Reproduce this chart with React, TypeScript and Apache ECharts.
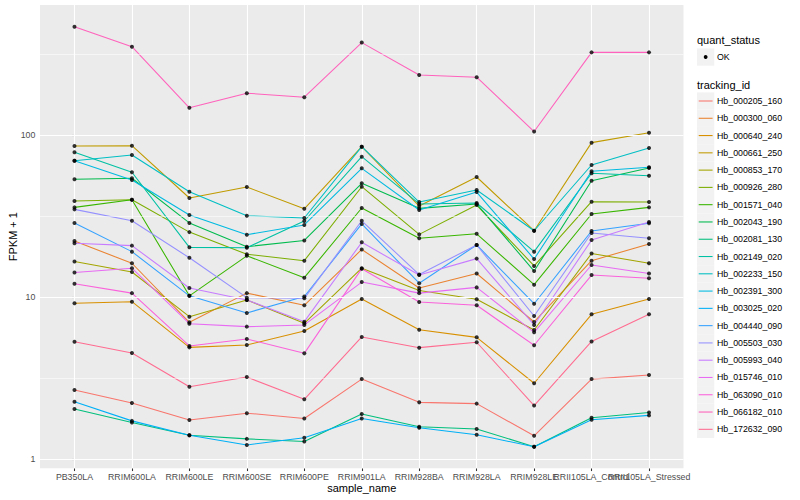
import React, { useEffect, useRef } from "react";
import * as echarts from "echarts";

const samples = [
  "PB350LA", "RRIM600LA", "RRIM600LE", "RRIM600SE", "RRIM600PE", "RRIM901LA",
  "RRIM928BA", "RRIM928LA", "RRIM928LE", "RRII105LA_Control", "RRII105LA_Stressed",
];

const trackingIds = [
  "Hb_000205_160", "Hb_000300_060", "Hb_000640_240", "Hb_000661_250", "Hb_000853_170",
  "Hb_000926_280", "Hb_001571_040", "Hb_002043_190", "Hb_002081_130", "Hb_002149_020",
  "Hb_002233_150", "Hb_002391_300", "Hb_003025_020", "Hb_004440_090", "Hb_005503_030",
  "Hb_005993_040", "Hb_015746_010", "Hb_063090_010", "Hb_066182_010", "Hb_172632_090",
];

// FPKM + 1 per sample (order of `samples`)
const hb_000205_160 = [2.68, 2.23, 1.75, 1.93, 1.79, 3.13, 2.25, 2.21, 1.40, 3.13, 3.32];
const hb_000300_060 = [22.2, 16.2, 7.01, 10.6, 8.92, 19.7, 11.4, 14.0, 7.04, 16.8, 21.3];
const hb_000640_240 = [9.18, 9.39, 4.91, 5.08, 6.19, 9.75, 6.31, 5.66, 2.95, 7.85, 9.75];
const hb_000661_250 = [85.5, 85.9, 40.9, 47.8, 35.1, 84.7, 36.5, 55.1, 25.7, 89.7, 103.3];
const hb_000853_170 = [16.6, 14.3, 7.59, 9.62, 6.91, 15.1, 11.0, 9.71, 6.28, 18.6, 16.2];
const hb_000926_280 = [39.2, 39.9, 25.2, 18.4, 16.8, 48.0, 24.4, 37.0, 15.6, 38.8, 38.6];
const hb_001571_040 = [35.8, 39.9, 10.2, 18.0, 13.2, 35.5, 23.1, 24.6, 11.95, 32.6, 35.8];
const hb_002043_190 = [53.3, 54.1, 28.7, 20.5, 22.4, 50.4, 35.3, 37.6, 14.5, 52.3, 62.6];
const hb_002081_130 = [2.05, 1.69, 1.41, 1.34, 1.29, 1.91, 1.59, 1.54, 1.20, 1.81, 1.95];
const hb_002149_020 = [78.2, 58.9, 20.3, 20.2, 29.5, 73.5, 37.6, 38.1, 19.1, 58.1, 56.1];
const hb_002233_150 = [69.4, 75.3, 44.7, 31.8, 30.8, 84.7, 38.6, 45.8, 25.7, 65.3, 83.2];
const hb_002391_300 = [69.4, 52.8, 32.1, 24.3, 27.9, 62.3, 34.5, 44.5, 17.2, 59.8, 63.2];
const hb_003025_020 = [2.27, 1.73, 1.41, 1.23, 1.36, 1.79, 1.57, 1.42, 1.20, 1.76, 1.87];
const hb_004440_090 = [28.7, 19.1, 10.2, 8.0, 10.1, 28.3, 12.2, 21.0, 9.12, 25.6, 28.6];
const hb_005503_030 = [34.8, 29.6, 17.5, 9.94, 9.85, 29.6, 13.8, 21.0, 7.66, 24.9, 23.1];
const hb_005993_040 = [21.5, 20.8, 11.4, 9.62, 7.07, 21.8, 13.7, 17.3, 6.75, 22.5, 29.1];
const hb_015746_010 = [14.2, 15.1, 6.87, 6.59, 6.75, 12.4, 10.6, 11.5, 6.08, 15.8, 14.0];
const hb_063090_010 = [12.1, 10.6, 5.01, 5.53, 4.51, 15.0, 9.35, 8.92, 5.06, 13.7, 13.1];
const hb_066182_010 = [465, 350, 147, 181, 171, 371, 234, 227, 105, 323, 323];
const hb_172632_090 = [5.32, 4.53, 2.81, 3.22, 2.35, 5.69, 4.89, 5.28, 2.15, 5.34, 7.85];

const seriesValues = [
  hb_000205_160, hb_000300_060, hb_000640_240, hb_000661_250, hb_000853_170,
  hb_000926_280, hb_001571_040, hb_002043_190, hb_002081_130, hb_002149_020,
  hb_002233_150, hb_002391_300, hb_003025_020, hb_004440_090, hb_005503_030,
  hb_005993_040, hb_015746_010, hb_063090_010, hb_066182_010, hb_172632_090,
];

const yMajor = [1, 10, 100];
const yMinor = [3.1623, 31.623, 316.23];

const palette = [
  "#F8766D", "#EA8331", "#D89000", "#C09B00", "#A3A500", "#7CAE00", "#39B600",
  "#00BB4E", "#00BF7D", "#00C1A3", "#00BFC4", "#00BAE0", "#00B0F6", "#35A2FF",
  "#9590FF", "#C77CFF", "#E76BF3", "#FA62DB", "#FF62BC", "#FF6C91",
];

const FONT = "'Liberation Sans', Arial, Helvetica, sans-serif";
const Y_MIN = 0.8826;
const Y_MAX = 632.6;
const X_MIN = -0.6;
const X_MAX = 10.6;

export default function App() {
  const ref = useRef<HTMLDivElement>(null);
  useEffect(() => {
    if (!ref.current) return;
    const chart = echarts.init(ref.current, null, { renderer: "svg" });
    const idx = samples.map((_, i) => i);
    // labels split over two axes so that overlapping neighbours are both kept
    const idxA = idx.filter((i) => i !== 9);
    const idxB = [9];

    const lineSeries = seriesValues.map((vals, k) => ({
      type: "line",
      name: trackingIds[k],
      data: vals.map((v, i) => [i, v]),
      showSymbol: false,
      lineStyle: { color: palette[k], width: 1.07 },
      itemStyle: { color: palette[k] },
      z: 3,
      silent: true,
    }));

    const points: number[][] = [];
    seriesValues.forEach((vals) => vals.forEach((v, i) => points.push([i, v])));

    const gridLines: any[] = [];
    yMinor.forEach((v) =>
      gridLines.push([
        { coord: [X_MIN, v], lineStyle: { color: "#fff", width: 0.55, type: "solid" } },
        { coord: [X_MAX, v] },
      ])
    );
    yMajor.forEach((v) =>
      gridLines.push([
        { coord: [X_MIN, v], lineStyle: { color: "#fff", width: 1.1, type: "solid" } },
        { coord: [X_MAX, v] },
      ])
    );
    idx.forEach((i) =>
      gridLines.push([
        { coord: [i, Y_MIN], lineStyle: { color: "#fff", width: 1.1, type: "solid" } },
        { coord: [i, Y_MAX] },
      ])
    );

    const legendX = 697;
    const keyW = 17.28;
    const legendTop = 101;
    const graphics: any[] = [
      {
        type: "text", left: legendX, top: 34,
        style: { text: "quant_status", font: `11px ${FONT}`, fill: "#000" },
      },
      {
        type: "rect", shape: { x: legendX, y: 48.4, width: keyW, height: keyW },
        style: { fill: "#F2F2F2" },
      },
      {
        type: "circle", shape: { cx: legendX + keyW / 2, cy: 57, r: 1.9 },
        style: { fill: "#000" },
      },
      {
        type: "text", x: legendX + 20, y: 57,
        style: { text: "OK", font: `8.8px ${FONT}`, fill: "#000", verticalAlign: "middle" },
      },
      {
        type: "text", left: legendX, top: 79,
        style: { text: "tracking_id", font: `11px ${FONT}`, fill: "#000" },
      },
    ];
    trackingIds.forEach((id, k) => {
      const cy = legendTop + k * keyW;
      graphics.push({
        type: "rect", shape: { x: legendX, y: cy - keyW / 2, width: keyW, height: keyW },
        style: { fill: "#F2F2F2" },
      });
      graphics.push({
        type: "line", shape: { x1: legendX + 1.7, y1: cy, x2: legendX + keyW - 1.7, y2: cy },
        style: { stroke: palette[k], lineWidth: 1.07 },
      });
      graphics.push({
        type: "text", x: legendX + 20, y: cy,
        style: { text: id, font: `8.8px ${FONT}`, fill: "#000", verticalAlign: "middle" },
      });
    });

    const xLabelStyle = {
      formatter: (v: number) => samples[Math.round(v)] ?? "",
      color: "#4D4D4D", fontSize: 8.8, margin: 4.4, fontFamily: FONT,
      hideOverlap: false, showMinLabel: true, showMaxLabel: true,
    };

    chart.setOption({
      animation: false,
      textStyle: { fontFamily: FONT },
      grid: {
        left: 40, right: 116.5, top: 5, bottom: 31.7,
        show: true, backgroundColor: "#EBEBEB", borderWidth: 0,
        containLabel: false,
        outerBoundsMode: "none",
      },
      xAxis: [
        {
          type: "value",
          position: "bottom",
          min: X_MIN,
          max: X_MAX,
          axisLine: { show: false },
          splitLine: { show: false },
          axisTick: { show: true, length: 2.75, lineStyle: { color: "#333", width: 1.07 }, customValues: idx },
          axisLabel: { ...xLabelStyle, customValues: idxA },
          name: "sample_name",
          nameLocation: "middle",
          nameGap: 14,
          nameMoveOverlap: false,
          nameTextStyle: { fontSize: 11, color: "#000", fontFamily: FONT, verticalAlign: "top" },
        },
        {
          type: "value",
          position: "bottom",
          offset: 0,
          min: X_MIN,
          max: X_MAX,
          axisLine: { show: false },
          splitLine: { show: false },
          axisTick: { show: false },
          axisLabel: { ...xLabelStyle, customValues: idxB },
        },
      ],
      yAxis: {
        type: "log",
        logBase: 10,
        min: Y_MIN,
        max: Y_MAX,
        axisLine: { show: false },
        splitLine: { show: false },
        minorSplitLine: { show: false },
        axisTick: { show: true, length: 2.75, lineStyle: { color: "#333", width: 1.07 }, customValues: yMajor },
        axisLabel: {
          customValues: yMajor,
          formatter: (v: number) => {
            const r = Math.round(v);
            return yMajor.includes(r) && Math.abs(v - r) < 1e-6 ? String(r) : "";
          },
          color: "#4D4D4D", fontSize: 8.8, margin: 4.6, fontFamily: FONT,
          showMinLabel: true, showMaxLabel: true,
        },
        name: "FPKM + 1",
        nameLocation: "middle",
        nameGap: 22,
        nameMoveOverlap: false,
        nameRotate: 90,
        nameTextStyle: { fontSize: 11, color: "#000", fontFamily: FONT },
      },
      series: [
        {
          type: "line",
          name: "grid",
          data: [[0, 1], [10, 1]],
          showSymbol: false,
          lineStyle: { opacity: 0 },
          silent: true,
          z: 1,
          markLine: {
            silent: true,
            symbol: ["none", "none"],
            label: { show: false },
            animation: false,
            data: gridLines,
          },
        },
        ...lineSeries,
        {
          type: "scatter",
          name: "OK",
          data: points,
          symbol: "circle",
          symbolSize: 4,
          itemStyle: { color: "#000" },
          z: 5,
          silent: true,
        },
      ],
      graphic: graphics,
    });
    return () => chart.dispose();
  }, []);

  return (
    <div
      ref={ref}
      style={{ position: "fixed", left: 0, top: 0, width: 800, height: 500, background: "#fff" }}
    />
  );
}
